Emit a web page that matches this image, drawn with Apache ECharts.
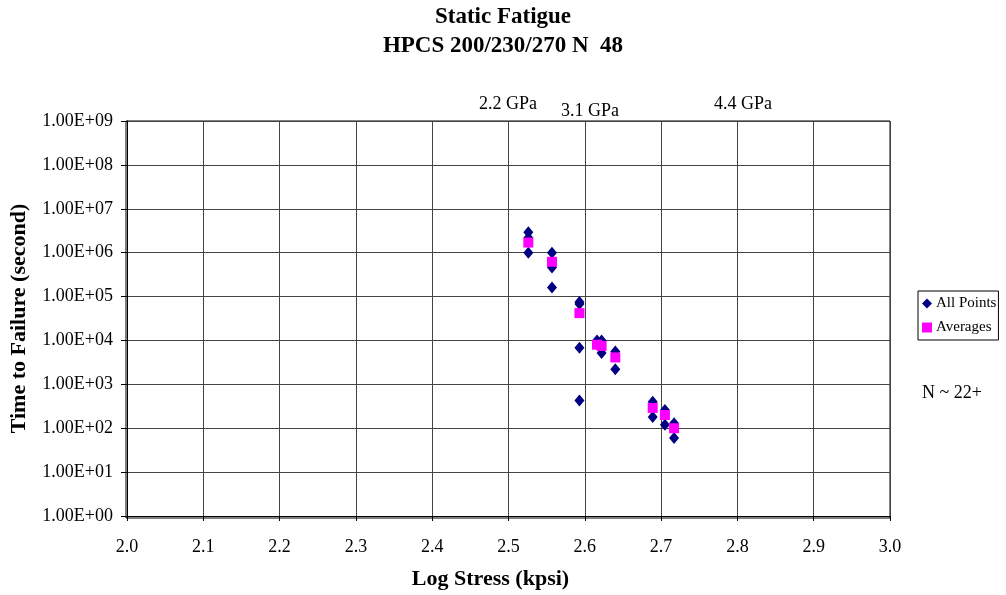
<!DOCTYPE html>
<html>
<head>
<meta charset="utf-8">
<script src="https://cdn.jsdelivr.net/npm/echarts@6/dist/echarts.min.js"></script>
<style>
  html, body { margin: 0; padding: 0; background: #fff; }
  #chart { width: 1006px; height: 595px; }
</style>
</head>
<body>
<div id="chart"></div>
<script>
// log stress (kpsi) and time to failure (s)
const allStress = [2.526, 2.526, 2.526, 2.557, 2.557, 2.557, 2.593, 2.593, 2.593, 2.593,
  2.616, 2.622, 2.622, 2.640, 2.640, 2.689, 2.689, 2.705, 2.705, 2.717, 2.717];
const allTime = [2.9e6, 2.2e6, 1.0e6, 1.0e6, 4.6e5, 1.6e5, 7.5e4, 6.8e4, 6.8e3, 430,
  1.0e4, 1.0e4, 5.2e3, 5.6e3, 2.2e3, 400, 180, 260, 120, 130, 60];
const avgStress = [2.526, 2.557, 2.593, 2.616, 2.622, 2.640, 2.689, 2.705, 2.717];
const avgTime = [1.7e6, 6.2e5, 4.2e4, 8.0e3, 7.5e3, 4.1e3, 290, 200, 100];
const gpaLabels = ['2.2 GPa', '3.1 GPa', '4.4 GPa'];

const font = '"Liberation Serif", "Times New Roman", serif';
const chart = echarts.init(document.getElementById('chart'));

function fmtExp(v) {
  const e = Math.round(Math.log10(v));
  return '1.00E+' + (e < 10 ? '0' + e : e);
}

const option = {
  animation: false,
  backgroundColor: '#fff',
  textStyle: { fontFamily: font },
  title: {
    text: 'Static Fatigue\nHPCS 200/230/270 N  48',
    left: 'center',
    top: 3,
    padding: 0,
    textStyle: { fontFamily: font, fontSize: 23, fontWeight: 'bold', color: '#000', lineHeight: 29 }
  },
  legend: {
    orient: 'vertical',
    left: 918,
    top: 291,
    padding: [5, 2, 5, 4],
    itemGap: 9,
    itemWidth: 10,
    itemHeight: 10,
    borderColor: '#000',
    borderWidth: 1,
    borderRadius: 0,
    textStyle: { fontFamily: font, fontSize: 15, color: '#000', padding: [0, 0, 0, -1] },
    data: [
      { name: 'All Points', icon: 'diamond' },
      { name: 'Averages', icon: 'rect' }
    ]
  },
  grid: { left: 126, right: 116, top: 121, bottom: 77 },
  xAxis: {
    type: 'value',
    min: 2.0,
    max: 3.0,
    interval: 0.1,
    name: 'Log Stress (kpsi)',
    nameLocation: 'middle',
    nameGap: 52,
    nameTextStyle: { fontFamily: font, fontSize: 22, fontWeight: 'bold', color: '#000', padding: [0, 36, 0, 0] },
    axisLine: { lineStyle: { color: '#000', width: 1 } },
    axisTick: { show: true, length: 5, lineStyle: { color: '#000' } },
    axisLabel: { fontFamily: font, fontSize: 18, color: '#000', margin: 22, formatter: v => v.toFixed(1) },
    splitLine: { show: true, lineStyle: { color: '#444', width: 1 } }
  },
  yAxis: {
    type: 'log',
    logBase: 10,
    min: 1,
    max: 1e9,
    name: 'Time to Failure (second)',
    nameLocation: 'middle',
    nameGap: 97,
    nameTextStyle: { fontFamily: font, fontSize: 22, fontWeight: 'bold', color: '#000' },
    axisLine: { show: true, lineStyle: { color: '#000', width: 1 } },
    axisTick: { show: true, length: 6, lineStyle: { color: '#000' } },
    axisLabel: { fontFamily: font, fontSize: 18, color: '#000', margin: 14, formatter: fmtExp },
    splitLine: { show: true, lineStyle: { color: '#444', width: 1 } }
  },
  graphic: [
    { type: 'text', left: 479, top: 95, style: { text: gpaLabels[0], fontFamily: font, fontSize: 18, fill: '#000' } },
    { type: 'text', left: 561, top: 102, style: { text: gpaLabels[1], fontFamily: font, fontSize: 18, fill: '#000' } },
    { type: 'text', left: 714, top: 95, style: { text: gpaLabels[2], fontFamily: font, fontSize: 18, fill: '#000' } },
    { type: 'text', left: 922, top: 384, style: { text: 'N ~ 22+', fontFamily: font, fontSize: 18, fill: '#000' } },
    // plot-area border
    { type: 'rect', shape: { x: 126, y: 121, width: 764, height: 397 }, style: { fill: 'none', stroke: '#000', lineWidth: 1 }, silent: true, z: -1 }
  ],
  series: [
    {
      name: 'All Points',
      type: 'scatter',
      symbol: 'diamond',
      symbolSize: [10, 12],
      itemStyle: { color: '#000080', opacity: 1 },
      data: allStress.map((x, i) => [x, allTime[i]]),
      z: 3
    },
    {
      name: 'Averages',
      type: 'scatter',
      symbol: 'rect',
      symbolSize: 10,
      itemStyle: { color: '#FF00FF', opacity: 1 },
      data: avgStress.map((x, i) => [x, avgTime[i]]),
      z: 4
    }
  ]
};

chart.setOption(option);
</script>
</body>
</html>
